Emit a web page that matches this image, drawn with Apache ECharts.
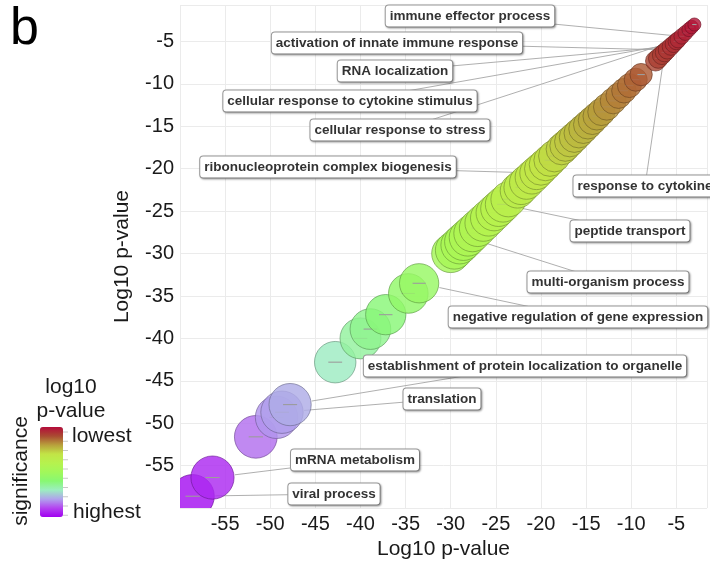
<!DOCTYPE html>
<html>
<head>
<meta charset="utf-8">
<script src="https://cdn.jsdelivr.net/npm/echarts@6/dist/echarts.min.js"></script>
<style>
  html, body { margin: 0; padding: 0; background: #fff; }
  #chart { width: 710px; height: 565px; }
</style>
</head>
<body>
<div id="chart"></div>
<script>
// Labelled GO terms and their log10 p-values
const termNames = [
  'immune effector process',
  'activation of innate immune response',
  'RNA localization',
  'cellular response to cytokine stimulus',
  'cellular response to stress',
  'ribonucleoprotein complex biogenesis',
  'response to cytokine',
  'peptide transport',
  'multi-organism process',
  'negative regulation of gene expression',
  'establishment of protein localization to organelle',
  'translation',
  'mRNA metabolism',
  'viral process'
];
const termLogP = [-4.4, -6.0, -5.6, -5.3, -4.8, -20.5, -6.3, -24.2, -28.1, -33.5, -47.8, -48.7, -56.4, -58.6];

// Further enriched terms without a label
const otherLogP = [
  -51.6, -49.3, -42.8, -40.0, -38.9, -37.2, -34.7,
  -30.0, -29.6, -29.0, -28.6, -27.6, -27.0, -26.4, -25.8, -25.2, -24.7,
  -23.6, -22.6, -22.2, -21.6, -21.0, -20.0, -19.5, -19.0, -18.5,
  -17.7, -17.3, -16.8, -16.3, -15.8, -15.3, -14.8, -14.3, -13.8, -13.3,
  -12.7, -12.0, -11.4, -10.8, -10.2, -9.5, -8.9,
  -7.3, -7.0, -6.6, -5.0, -4.0, -3.6, -3.3, -3.0
];

// Axis tick labels
const xTickLabels = [-55, -50, -45, -40, -35, -30, -25, -20, -15, -10, -5];
const yTickLabels = [-55, -50, -45, -40, -35, -30, -25, -20, -15, -10, -5];

// Significance colour ramp, most significant (low) to least (high)
const rampColors = ['#a000f0', '#b444f0', '#b0a4ec', '#9ceec0', '#88f872', '#a2f85a',
                    '#b6f24e', '#c2e446', '#b8a03c', '#aa4a32', '#b40c3a'];

// Where each term's label box sits (pixel centre)
const labelBoxCentre = [
  [470, 16], [397, 43], [395, 71], [350, 101], [400, 130], [328, 167],
  [645, 186], [630, 231], [608, 282], [578, 317], [525, 366], [442, 399],
  [355, 460], [334, 494]
];

const FONT = '"Liberation Sans", Arial, Helvetica, sans-serif';

// bubble diameter grows with significance and levels off
function bubbleDiameter(v) {
  return 7 + 37.5 * (1 - Math.exp(-Math.abs(v) / 17));
}

function darken(c, k) {
  const a = echarts.color.parse(c);
  return 'rgb(' + Math.round(a[0] * k) + ',' + Math.round(a[1] * k) + ',' + Math.round(a[2] * k) + ')';
}

// all terms, drawn from the most significant upwards
const rows = termLogP.map((v, i) => ({ v, name: termNames[i] }))
  .concat(otherLogP.map(v => ({ v, name: '' })))
  .sort((a, b) => a.v - b.v);

const seriesData = rows.map(r => [r.v, r.v, r.name]);

const chart = echarts.init(document.getElementById('chart'), null, { renderer: 'canvas' });

function tickFormatter(list) {
  return function (v) {
    return list.indexOf(Math.round(v * 10) / 10) >= 0 ? String(v) : '';
  };
}

const option = {
  animation: false,
  backgroundColor: '#ffffff',
  grid: { left: 180, right: 0, top: 5, bottom: 56 },
  xAxis: {
    type: 'value', min: -60, max: -1.6,
    splitNumber: 12, minInterval: 5, maxInterval: 5,
    axisLine: { show: false }, axisTick: { show: false },
    axisLabel: { formatter: tickFormatter(xTickLabels), fontSize: 20, color: '#1a1a1a',
                 fontFamily: FONT, margin: 6, interval: 0, hideOverlap: false },
    splitLine: { show: true, lineStyle: { color: '#ebebeb', width: 1 } },
    name: 'Log10 p-value', nameLocation: 'middle', nameGap: 30,
    nameTextStyle: { fontSize: 21, color: '#1a1a1a', fontFamily: FONT }
  },
  yAxis: {
    type: 'value', min: -60, max: -0.7,
    splitNumber: 12, minInterval: 5, maxInterval: 5,
    axisLine: { show: false }, axisTick: { show: false },
    axisLabel: { formatter: tickFormatter(yTickLabels), fontSize: 20, color: '#1a1a1a',
                 fontFamily: FONT, margin: 6, interval: 0, hideOverlap: false },
    splitLine: { show: true, lineStyle: { color: '#ebebeb', width: 1 } },
    name: 'Log10 p-value', nameLocation: 'middle', nameGap: 47,
    nameTextStyle: { fontSize: 21, color: '#1a1a1a', fontFamily: FONT }
  },
  visualMap: {
    type: 'continuous', min: -60, max: -2, dimension: 0, seriesIndex: 0,
    inRange: { color: rampColors },
    orient: 'vertical', left: 40, top: 427, itemWidth: 23, itemHeight: 90,
    padding: 0, calculable: false, hoverLink: false, text: null, showLabel: false
  },
  series: [{
    type: 'custom',
    coordinateSystem: 'cartesian2d',
    encode: { x: 0, y: 1 },
    data: seriesData,
    clip: true,
    renderItem: function (params, api) {
      const v = api.value(0);
      const c = api.coord([api.value(0), api.value(1)]);
      const d = bubbleDiameter(v);
      const col = api.visual('color');
      const half = d / 6;
      return {
        type: 'group',
        children: [
          { type: 'circle', shape: { cx: c[0], cy: c[1], r: d / 2 },
            style: { fill: col, stroke: darken(col, 0.62), lineWidth: 0.8, opacity: 0.82 } },
          { type: 'line', shape: { x1: c[0] - half, y1: c[1], x2: c[0] + half, y2: c[1] },
            style: { stroke: '#9c9c9c', lineWidth: 1.1 } }
        ]
      };
    }
  }]
};

chart.setOption(option);

// label boxes with leader lines
const measureCtx = document.createElement('canvas').getContext('2d');
const LABEL_FONT = 'bold 13.5px ' + FONT;
measureCtx.font = LABEL_FONT;

const graphics = [];
termNames.forEach(function (name, i) {
  const v = termLogP[i];
  const p = chart.convertToPixel({ gridIndex: 0 }, [v, v]);
  const r = bubbleDiameter(v) / 2;
  const b = labelBoxCentre[i];
  const hw = (measureCtx.measureText(name).width + 9) / 2;
  const hh = 10;
  const dx = b[0] - p[0], dy = b[1] - p[1];
  const len = Math.sqrt(dx * dx + dy * dy);
  const sx = dx === 0 ? Infinity : hw / Math.abs(dx);
  const sy = dy === 0 ? Infinity : hh / Math.abs(dy);
  const s = Math.min(sx, sy);
  const ex = b[0] - dx * s, ey = b[1] - dy * s;
  const gap = r + 1;
  if (len - len * s > gap + 3) {
    graphics.push({
      type: 'line', z: 1, silent: true,
      shape: { x1: p[0] + dx / len * gap, y1: p[1] + dy / len * gap, x2: ex, y2: ey },
      style: { stroke: '#a6a6a6', lineWidth: 0.9 }
    });
  }
  graphics.push({
    type: 'text', z: 20, x: b[0], y: b[1], silent: true,
    style: {
      text: name, font: LABEL_FONT, fill: '#333333',
      align: 'center', verticalAlign: 'middle',
      backgroundColor: '#ffffff', borderColor: '#9a9a9a', borderWidth: 1, borderRadius: 3,
      padding: [4, 4, 3, 4],
      shadowColor: 'rgba(0,0,0,0.3)', shadowBlur: 2, shadowOffsetX: 1, shadowOffsetY: 1
    }
  });
});

// panel letter
graphics.push({ type: 'text', left: 10, top: 4, style: { text: 'b', font: '52px ' + FONT, fill: '#000' } });

// colour legend titles and ticks
graphics.push({ type: 'text', x: 71, y: 387, style: { text: 'log10', font: '21px ' + FONT, fill: '#1a1a1a', align: 'center', verticalAlign: 'middle' } });
graphics.push({ type: 'text', x: 71, y: 411, style: { text: 'p-value', font: '21px ' + FONT, fill: '#1a1a1a', align: 'center', verticalAlign: 'middle' } });
graphics.push({ type: 'text', x: 72, y: 436, style: { text: 'lowest', font: '21px ' + FONT, fill: '#1a1a1a', align: 'left', verticalAlign: 'middle' } });
graphics.push({ type: 'text', x: 73, y: 512, style: { text: 'highest', font: '21px ' + FONT, fill: '#1a1a1a', align: 'left', verticalAlign: 'middle' } });
graphics.push({ type: 'text', x: 21, y: 471, rotation: Math.PI / 2,
  style: { text: 'significance', font: '21px ' + FONT, fill: '#1a1a1a', align: 'center', verticalAlign: 'middle' } });
for (let k = 0; k < 10; k++) {
  const ty = 432 + k * 9.25;
  graphics.push({ type: 'line', silent: true, shape: { x1: 63, y1: ty, x2: 68, y2: ty },
    style: { stroke: '#c8c8c8', lineWidth: 1 } });
}

chart.setOption({ graphic: graphics });
</script>
</body>
</html>
